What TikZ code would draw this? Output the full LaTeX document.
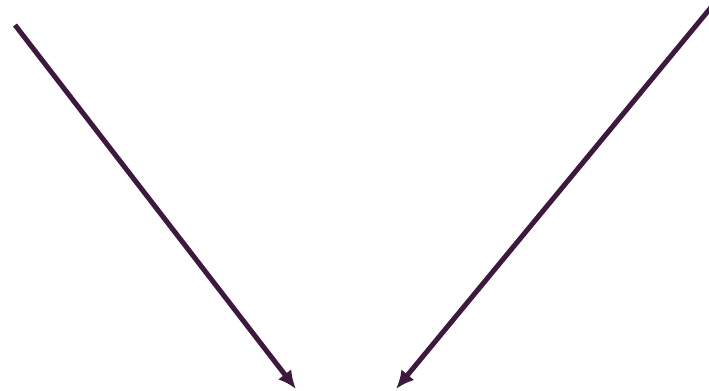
\documentclass[tikz,border=0pt]{standalone}
\usetikzlibrary{arrows.meta}
\definecolor{plum}{HTML}{3D1A3D}

\begin{document}
\begin{tikzpicture}[x=0.03cm,y=-0.03cm]
  \useasboundingbox (0,0) rectangle (709,390);
  \coordinate (leftstart) at (15,25);
  \coordinate (lefttip) at (296,389);
  \coordinate (rightstart) at (713,5);
  \coordinate (righttip) at (396,389);

  \draw[-{Latex[length=5.5mm,width=5mm]},line width=1.5mm,plum] (leftstart) -- (lefttip);
  \draw[-{Latex[length=5.5mm,width=5mm]},line width=1.5mm,plum] (rightstart) -- (righttip);
\end{tikzpicture}
\end{document}
